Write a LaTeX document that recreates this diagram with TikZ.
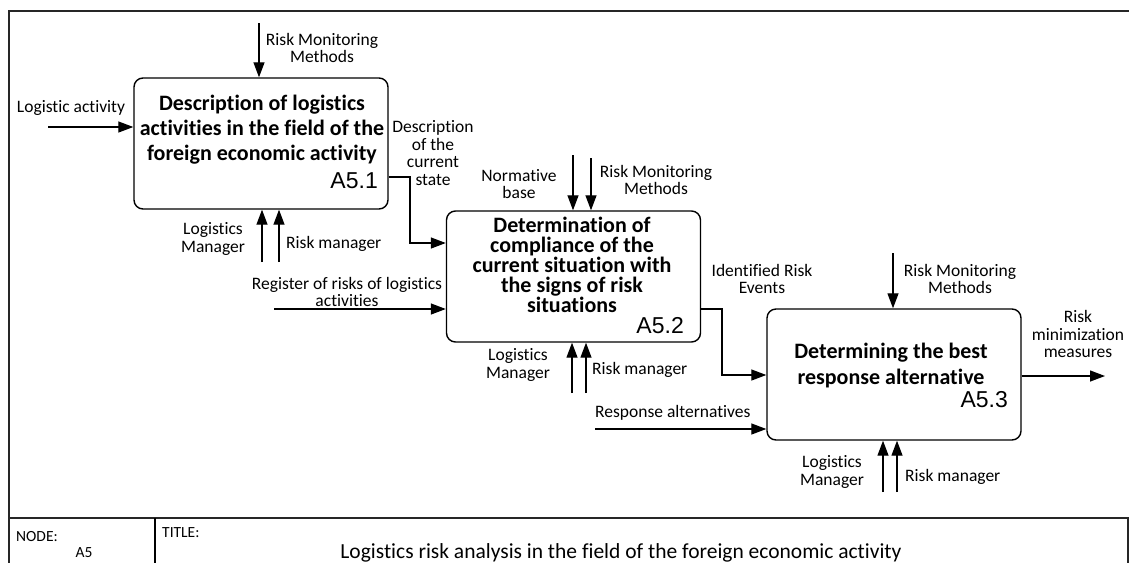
\documentclass[tikz,border=0pt]{standalone}
\usepackage{fontspec}
\setmainfont{Carlito}[Ligatures=NoCommon]
\newfontfamily\numfont{Liberation Sans}
\usetikzlibrary{arrows.meta}

\begin{document}
\begin{tikzpicture}[x=1pt,y=-1pt,>={Triangle[length=15pt,width=11pt]},
    box/.style={draw,line width=1.4pt,rounded corners=9pt,minimum width=254pt,minimum height=131pt},
    ttl/.style={align=center,inner sep=0pt,font=\fontsize{22}{#1}\selectfont\bfseries},
    lbl/.style={align=center,inner sep=0pt,font=\fontsize{17.5}{17.5}\selectfont},
    num/.style={anchor=base east,inner sep=0pt,font=\fontsize{23}{23}\numfont},
    conn/.style={->,line width=1.3pt}]
  \useasboundingbox (0,0) rectangle (1129,563);
  % frame and title block
  \draw[line width=1.6pt,black!85] (1129,11) -- (9,11) -- (9,563);
  \draw[line width=1.6pt,black!85] (9,518) -- (1128,518) -- (1128,563);
  \draw[line width=1.2pt] (155,518) -- (155,563);
  \node[lbl,anchor=west,font=\fontsize{15.5}{15.5}\selectfont] (nd) at (16,537) {NODE:};
  \node[lbl,font=\fontsize{15.5}{15.5}\selectfont] (nn) at (84,553) {A5};
  \node[lbl,anchor=west,font=\fontsize{15.5}{15.5}\selectfont] (tl) at (162,533) {TITLE:};
  \node[lbl,font=\fontsize{21.5}{21.5}\selectfont] (tt) at (621,553) {Logistics risk analysis in the field of the foreign economic activity};

  % activities
  \node[box] (B1) at (261,143.5) {};
  \node[box] (B2) at (573.5,276.5) {};
  \node[box] (B3) at (894,374.5) {};
  \node[ttl=25] (T1) at (262,130) {Description of logistics\\activities in the field of the\\foreign economic activity};
  \node[ttl=20] (T2) at (572,265) {Determination of\\compliance of the\\current situation with\\the signs of risk\\situations};
  \node[ttl=26] (T3) at (891,366) {Determining the best\\response alternative};
  \node[num] (N1) at (378,188) {A5.1};
  \node[num] (N2) at (684,333) {A5.2};
  \node[num] (N3) at (1008,407) {A5.3};

  % inputs, controls, mechanisms
  \foreach \n/\x/\y/\b in {i1/48/127/B1, i2/274/309/B2, i3/595/429/B3}{
    \coordinate (\n) at (\x,\y);
    \draw[conn] (\n) -- (\n -| \b.west);
  }
  \foreach \n/\x/\y/\b in {c1/259/23/B1, c2/573/155/B2, c3/591/158/B2, c4/893/253/B3}{
    \coordinate (\n) at (\x,\y);
    \draw[conn] (\n) -- (\n |- \b.north);
  }
  \foreach \n/\x/\y/\b in {m1/262/262/B1, m2/279/262/B1, m3/572/393/B2, m4/586/393/B2, m5/883/492/B3, m6/897/492/B3}{
    \coordinate (\n) at (\x,\y);
    \draw[conn] (\n) -- (\n |- \b.south);
  }
  % outputs
  \coordinate (o1) at (410,177); \coordinate (o2) at (410,243);
  \draw[conn] (o1 -| B1.east) -- (o1) -- (o2) -- (o2 -| B2.west);
  \coordinate (o3) at (722,309); \coordinate (o4) at (722,375);
  \draw[conn] (o3 -| B2.east) -- (o3) -- (o4) -- (o4 -| B3.west);
  \coordinate (o5) at (1105,376);
  \draw[conn] (o5 -| B3.east) -- (o5);

  % arrow labels
  \node[lbl] (L1) at (71,108) {Logistic activity};
  \node[lbl] (L2) at (322,48) {Risk Monitoring\\Methods};
  \node[lbl] (L3) at (213,239) {Logistics\\Manager};
  \node[lbl,anchor=west] (L4) at (286,244) {Risk manager};
  \node[lbl] (L5) at (433,153) {Description\\of the\\current\\state};
  \node[lbl] (L6) at (347,292) {Register of risks of logistics\\activities};
  \node[lbl] (L7) at (519,184) {Normative\\base};
  \node[lbl] (L8) at (656,180) {Risk Monitoring\\Methods};
  \node[lbl] (L9) at (518,365) {Logistics\\Manager};
  \node[lbl,anchor=west] (L10) at (592,370) {Risk manager};
  \node[lbl] (L11) at (762,279) {Identified Risk\\Events};
  \node[lbl] (L12) at (960,279) {Risk Monitoring\\Methods};
  \node[lbl] (L13) at (1078,334) {Risk\\minimization\\measures};
  \node[lbl,anchor=west] (L14) at (595,413) {Response alternatives};
  \node[lbl] (L15) at (832,472) {Logistics\\Manager};
  \node[lbl,anchor=west] (L16) at (905,477) {Risk manager};
\end{tikzpicture}
\end{document}
